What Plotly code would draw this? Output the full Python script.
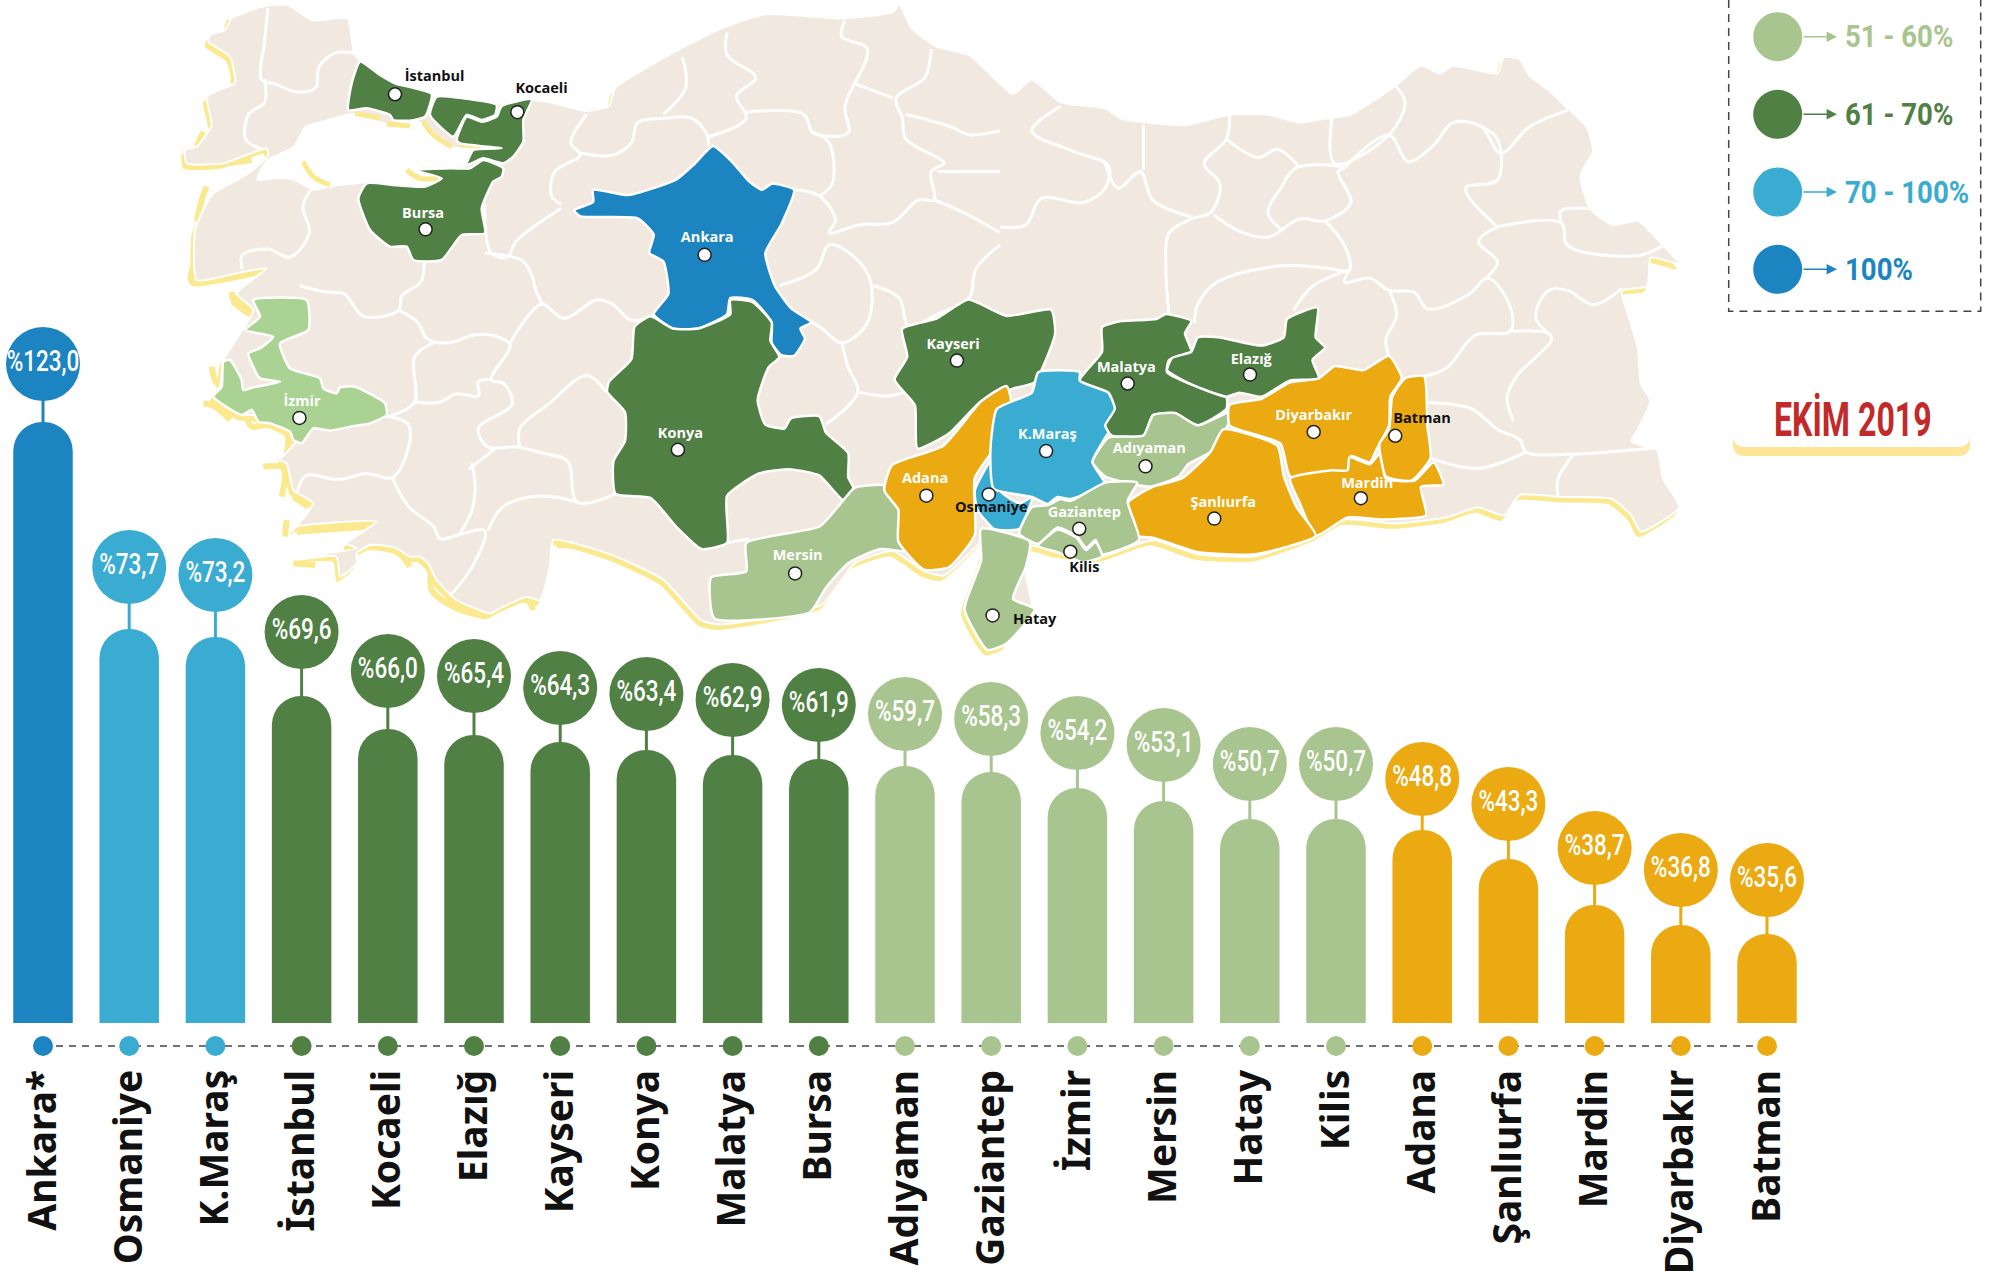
import plotly.graph_objects as go

# ---------- chart data ----------
categories = ["Ankara*", "Osmaniye", "K.Maraş", "İstanbul", "Kocaeli", "Elazığ", "Kayseri", "Konya", "Malatya", "Bursa",
              "Adıyaman", "Gaziantep", "İzmir", "Mersin", "Hatay", "Kilis", "Adana", "Şanlıurfa", "Mardin", "Diyarbakır", "Batman"]
values = ["%123,0", "%73,7", "%73,2", "%69,6", "%66,0", "%65,4", "%64,3", "%63,4", "%62,9", "%61,9",
          "%59,7", "%58,3", "%54,2", "%53,1", "%50,7", "%50,7", "%48,8", "%43,3", "%38,7", "%36,8", "%35,6"]
# the infographic's bars are not proportional to their labels: drawn heights
drawn_heights = [601, 394, 386, 327, 294, 288, 281, 273, 268, 264, 257, 251, 235, 222, 204, 204, 193, 164, 118, 98, 89]
bubble_heights = [659, 456, 448, 391, 352, 347, 335, 329, 323, 318, 309, 304, 290, 278, 259, 259, 244, 219, 175, 153, 143]
bands = ["100", "70", "70", "61", "61", "61", "61", "61", "61", "61",
         "51", "51", "51", "51", "51", "51", "low", "low", "low", "low", "low"]
band_colors = {"100": "#1c85c1", "70": "#3aacd2", "61": "#508044", "51": "#a9c58f", "low": "#eba912"}
legend_labels = ["51 - 60%", "61 - 70%", "70 - 100%", "100%"]
legend_bands = ["51", "61", "70", "100"]

# ---------- map geometry ----------
def z1(p): return [(x / 1.568, y / 2.45) for x, y in p]
def z2(p): return [(1000 + x / 1.568, y / 2.445) for x, y in p]
def sh(p): return [(x * 1.2742, y * 1.2742) for x, y in p]
def c1(p): return [(180 + x / 3, y / 3) for x, y in p]
def c2(p): return [(180 + x / 3, 300 + y / 3) for x, y in p]

north_w = [(415,15),(450,12),(490,50),(545,45),(555,130),(565,150),(600,190),(640,215),(680,235),(740,245),(780,255),(830,245),(860,250),(920,272),(955,260),(965,215),(1060,125),(1130,70),(1200,35),(1320,45),(1400,30),(1410,10),(1430,70),(1470,115),(1520,135)]
east = [(0,205),(20,230),(50,195),(95,250),(165,265),(190,290),(235,300),(295,305),(360,280),(420,280),(470,300),(510,290),(550,280),(620,210),(660,160),(690,180),(710,160),(780,180),(790,140),(815,145),(830,185),(860,220),(890,265),(920,310),(930,370),(910,430),(925,510),(960,550),(1000,540),(1040,600),(1065,645),(1020,630),(1015,700),(975,710),(985,770),(1000,850),(1005,940),(1020,980),(1000,1050),(990,1080),(1030,1100),(1040,1170),(1065,1240),(1005,1300),(990,1260),(960,1220),(880,1215),(815,1210),(790,1260),(750,1240),(700,1265),(620,1280),(540,1270),(495,1310),(400,1360),(310,1355),(240,1320),(160,1360),(90,1350),(50,1335),(40,1400),(50,1490),(0,1520)]
hatay_tip = [(790,505),(775,510),(757,478),(770,440),(775,420)]
south_a = [(1530,1340),(1480,1410),(1450,1400),(1400,1350),(1340,1380),(1290,1480),(1130,1530),(1100,1520),(1040,1420),(960,1360)]
south_b = [(1120,720),(1110,800),(1080,900),(1040,890),(960,925),(930,940),(830,900),(770,840),(745,790),(720,770),(690,770),(650,745),(600,735),(570,735),(530,760),(530,790),(480,830),(470,770),(360,770),(530,745),(500,730),(590,665),(350,680),(340,690),(400,610),(340,570),(320,490),(300,480),(345,430),(340,400),(280,370),(220,345),(185,345),(100,290),(120,260),(130,180)]
west_c = [(220,930),(170,880),(260,805),(170,820),(50,840),(45,690),(70,630),(100,580),(190,530),(230,500),(265,465),(260,445),(130,490),(20,490),(15,450),(50,440),(95,375),(80,290),(130,265),(165,250),(150,170),(85,125),(90,105),(135,90),(155,55)]
outline = z1(north_w) + z2(east) + sh(hatay_tip) + z1(south_a) + c2(south_b) + c1(west_c)
marmara = c1([(375,380),(440,360),(520,340),(620,370),(720,365),(815,440),(965,442),(880,455),(860,495),(790,510),(720,500),(780,535),(740,560),(640,550),(560,548),(470,558),(400,570),(340,540),(300,535),(230,540),(260,480),(340,440)])

yellow_strips = c1([(150,60),(140,90)]), c1([(90,110),(110,140),(155,175),(160,250)]), c1([(90,290),(90,375)]), c1([(70,395),(50,440)]), \
    c1([(20,450),(25,490),(130,490),(215,480)]), c1([(80,560),(65,600),(50,665)]), c1([(50,690),(50,760),(35,845),(120,840),(240,815)]), \
    c1([(155,875),(165,910),(225,950)]), c1([(525,340),(600,355)]), c1([(620,372),(690,378)]), c1([(730,365),(760,405),(815,440)]), \
    c1([(840,435),(960,440)]), c1([(680,510),(720,535),(775,535)]), c1([(370,485),(400,530),(450,555)]), \
    c2([(155,5),(205,25),(230,50)]), c2([(195,85),(230,110),(275,110)]), c2([(95,200),(105,240),(130,270)]), \
    c2([(185,175),(220,235),(240,262),(300,250)]), c2([(70,310),(105,320),(150,360)]), \
    c2([(195,330),(215,380),(260,375),(320,400),(320,460)]), c2([(250,500),(310,505),(305,590)]), c2([(340,590),(385,620)]), \
    c2([(320,660),(315,710)]), c2([(350,695),(560,680)]), c2([(340,790),(405,795)]), c2([(440,770),(530,750)]), \
    c2([(570,740),(640,745),(690,800)]), c2([(720,770),(750,790),(755,870),(830,925),(920,950)]), c2([(960,925),(1040,900),(1060,930)]), \
    c2([(1130,735),(1270,750),(1400,800),(1500,900)])

provinces = {
    "İstanbul": ("#508044", c1([(540,185),(600,225),(645,250),(755,282),(735,350),(690,362),(640,360),(630,345),(560,325),(505,330),(515,250)])),
    "Kocaeli1": ("#508044", c1([(770,290),(850,295),(950,315),(945,345),(905,360),(860,345),(820,410),(750,345)])),
    "Kocaeli2": ("#508044", c1([(830,420),(860,350),(905,365),(950,350),(965,318),(1055,298),(1030,360),(1030,425),(1000,470),(970,490),(910,475),(860,495),(880,450),(965,445),(840,430)])),
    "Bursa": ("#508044", c1([(560,550),(640,555),(735,560),(785,535),(700,510),(815,505),(870,505),(910,480),(970,505),(965,530),(940,545),(905,625),(915,700),(845,705),(785,780),(700,780),(680,740),(630,740),(570,690),(535,595)])),
    "İzmir": ("#aad292", c2([(380,0),(385,90),(300,130),(330,205),(420,235),(430,265),(470,280),(480,262),(525,260),(615,310),(620,345),(570,370),(510,380),(450,392),(400,385),(365,430),(340,420),(330,395),(270,370),(235,365),(215,330),(185,345),(100,290),(125,260),(130,185),(150,180),(185,240),(190,270),(220,262),(300,245),(240,235),(205,160),(240,145),(280,110),(195,90),(240,50),(220,0)])),
    "Ankara": ("#1c85c1", z1([(1118,358),(1150,400),(1175,445),(1195,465),(1210,450),(1245,465),(1225,550),(1200,620),(1215,700),(1240,755),(1272,790),(1255,805),(1262,830),(1245,872),(1225,870),(1210,840),(1210,790),(1180,735),(1145,730),(1140,770),(1095,805),(1055,805),(1025,770),(1048,720),(1040,640),(1018,620),(1025,575),(1000,535),(910,530),(900,515),(930,495),(930,465),(985,478),(1060,440),(1090,400)])),
    "Konya": ("#508044", z1([(1020,775),(1055,805),(1095,805),(1145,770),(1145,735),(1180,740),(1210,790),(1208,835),(1222,875),(1205,900),(1188,980),(1200,1040),(1230,1050),(1240,1025),(1285,1020),(1295,1060),(1330,1110),(1330,1170),(1338,1195),(1322,1225),(1285,1165),(1240,1150),(1190,1160),(1140,1215),(1140,1330),(1100,1345),(1060,1290),(1020,1220),(965,1210),(962,1130),(980,1080),(980,1010),(952,960),(955,935),(990,880),(995,800)])),
    "Mersin": ("#a9c58f", z1([(1115,1415),(1170,1400),(1170,1330),(1285,1290),(1320,1230),(1340,1195),(1390,1190),(1410,1250),(1430,1350),(1380,1345),(1330,1380),(1295,1440),(1270,1500),(1120,1515)])),
    "Kayseri": ("#508044", sh([(708,258),(735,250),(760,235),(790,248),(825,243),(828,262),(812,300),(795,305),(770,315),(745,340),(720,352),(718,318),(702,298),(712,280)])),
    "Adana": ("#eba912", sh([(694,385),(700,365),(740,350),(770,315),(790,303),(795,330),(765,375),(765,420),(745,445),(725,447),(705,425),(705,400)])),
    "Osmaniye": ("#3aacd2", sh([(765,385),(775,365),(785,350),(785,385),(800,395),(810,390),(800,415),(780,415),(767,400)])),
    "K.Maraş": ("#3aacd2", z2([(60,910),(125,910),(125,930),(170,960),(185,1020),(165,1070),(145,1130),(165,1185),(110,1220),(90,1215),(75,1232),(50,1215),(-10,1195),(-15,1100),(-5,1000),(50,960)])),
    "Malatya": ("#508044", z2([(160,800),(190,785),(245,780),(260,768),(300,785),(290,815),(300,860),(265,880),(262,910),(300,940),(330,955),(355,970),(355,1000),(310,1040),(270,1010),(240,1015),(225,1065),(175,1065),(165,1040),(180,1000),(170,960),(125,930),(160,860)])),
    "Elazığ": ("#508044", z2([(310,825),(345,825),(410,845),(445,825),(450,780),(498,752),(495,825),(510,850),(490,880),(500,925),(455,930),(410,970),(375,960),(355,970),(300,940),(262,905),(270,875),(300,860)])),
    "Adıyaman": ("#a9c58f", z2([(240,1015),(275,1010),(310,1040),(355,1010),(372,1000),(355,1045),(330,1105),(295,1135),(280,1165),(235,1190),(165,1165),(145,1130),(170,1070),(225,1065)])),
    "Diyarbakır": ("#eba912", z2([(360,990),(410,975),(455,935),(500,925),(525,895),(570,905),(610,870),(630,925),(612,970),(610,1040),(590,1100),(580,1130),(550,1115),(545,1150),(455,1165),(440,1085),(360,1040)])),
    "Batman": ("#eba912", z2([(635,925),(665,920),(670,1040),(675,1120),(645,1175),(605,1165),(595,1085),(610,1050),(615,970)])),
    "Mardin": ("#eba912", z2([(455,1170),(520,1150),(545,1150),(548,1118),(580,1135),(595,1110),(605,1170),(650,1175),(680,1130),(695,1185),(660,1190),(668,1260),(600,1270),(545,1265),(495,1310),(470,1230)])),
    "Şanlıurfa": ("#eba912", z2([(350,1050),(435,1090),(445,1165),(465,1240),(495,1310),(400,1355),(310,1350),(240,1315),(215,1310),(200,1230),(240,1190),(285,1170),(330,1105)])),
    "Gaziantep": ("#a9c58f", z2([(215,1180),(200,1225),(218,1320),(160,1355),(150,1320),(135,1340),(120,1310),(90,1290),(60,1330),(30,1305),(50,1240),(75,1235),(95,1220),(110,1225),(165,1180)])),
    "Kilis": ("#a9c58f", z2([(60,1335),(90,1295),(120,1315),(135,1345),(150,1325),(160,1360),(130,1375),(90,1350)])),
    "Hatay": ("#a9c58f", sh([(770,415),(808,425),(805,445),(795,470),(812,478),(790,505),(775,510),(757,478),(770,440)])),
}

borders_z1 = [
    [(420,20),(415,100),(410,195),(430,205),(465,225),(495,215),(500,165),(525,130),(555,130)],
    [(415,195),(415,250),(390,280),(385,340),(410,365)],
    [(380,660),(380,625),(420,610),(455,630),(485,570),(475,505),(490,460)],
    [(470,700),(510,715),(540,720),(570,775),(625,760),(630,725),(660,690),(665,645)],
    [(625,760),(655,790),(670,830),(705,840),(745,820),(780,825),(800,845),(770,930),(790,940),(803,990),(750,1050),(765,1095),(810,1095),(850,1110),(890,1130),(905,1230),(965,1210)],
    [(800,840),(830,770),(850,745),(885,780),(935,735),(960,745),(990,785),(1020,775)],
    [(760,500),(770,620),(795,630),(810,590),(880,510)],
    [(760,620),(820,640),(835,680),(840,710),(850,745)],
    [(680,840),(650,875),(650,985),(610,1020)],
    [(650,985),(690,985),(715,965),(750,970),(750,935),(770,930)],
    [(605,1020),(640,1040),(640,1100),(615,1170),(575,1160),(530,1175),(480,1165),(465,1210)],
    [(615,1170),(640,1240),(680,1290),(690,1320),(720,1310),(760,1300),(740,1390),(705,1460)],
    [(740,1135),(745,1190),(740,1250),(720,1310)],
    [(735,1150),(780,1095)],
    [(765,1300),(790,1240),(850,1215),(905,1230)],
    [(815,1095),(815,1050),(860,990),(920,920),(950,960)],
    [(1140,1330),(1175,1320)],
    [(1222,700),(1280,660),(1300,600),(1340,630),(1365,690),(1360,790),(1320,840),(1285,800),(1250,770)],
    [(1320,840),(1330,900),(1345,960),(1295,1040)],
    [(1345,960),(1390,970),(1430,955)],
    [(1245,465),(1285,480),(1310,540),(1300,570),(1350,550),(1400,545),(1440,490),(1465,490),(1460,420),(1480,400),(1420,340),(1415,290),(1405,240),(1450,190),(1460,120)],
    [(880,500),(865,480),(870,420),(910,380),(895,350),(920,280)],
    [(910,375),(960,380),(990,350),(1000,300),(1040,290),(1085,290),(1110,335),(1110,358)],
    [(1040,280),(1075,215),(1070,140)],
    [(1110,335),(1170,290),(1155,235),(1185,190),(1140,135),(1140,80)],
    [(1170,275),(1260,280),(1275,325),(1330,325),(1325,260),(1360,120),(1320,90),(1325,50)],
    [(1275,325),(1300,350),(1305,450),(1285,480)],
    [(1340,205),(1400,240)],
    [(1370,700),(1410,730),(1425,800),(1470,770),(1520,730),(1530,660),(1568,600)],
    [(1465,490),(1510,520),(1568,570)],
    [(1420,280),(1490,310),(1520,330),(1568,320)],
    [(1470,420),(1520,420),(1568,420)],
]
borders_z2 = [
    [(0,555),(40,550),(65,485),(130,495),(165,460),(170,405),(115,370),(50,320),(95,260)],
    [(165,400),(185,460),(220,420),(240,490),(300,530)],
    [(225,305),(225,415)],
    [(360,280),(355,340),(320,400),(345,450),(330,520),(300,535),(265,570),(260,650),(265,770)],
    [(335,525),(375,565),(420,580),(470,535),(510,540),(550,495),(530,420),(540,410),(465,410),(440,460),(420,520),(440,560)],
    [(355,340),(405,385),(435,365),(470,410)],
    [(520,290),(525,400),(610,330),(635,250),(620,210)],
    [(540,410),(610,330),(640,395),(680,355),(710,300),(755,310),(785,375),(830,310),(890,270)],
    [(755,310),(780,340),(780,440),(730,460),(780,555)],
    [(510,540),(540,600),(548,660),(510,655),(440,650),(340,690),(310,745),(305,790)],
    [(548,660),(540,690),(580,680),(610,710),(650,715),(670,755),(735,720),(765,680),(800,750),(800,810),(745,820),(700,900),(665,920)],
    [(548,660),(490,700),(460,760)],
    [(610,710),(622,770),(605,830),(610,870)],
    [(780,555),(750,590),(780,640),(765,675)],
    [(780,555),(880,545),(890,600),(1000,625),(1040,600)],
    [(880,545),(880,515),(925,510)],
    [(800,810),(860,815),(865,830),(810,920),(795,970),(805,1030)],
    [(860,815),(840,775),(860,710),(890,710),(930,745),(975,705)],
    [(670,985),(740,1000),(780,1050),(815,1075),(825,1105),(900,1110),(990,1100),(1030,1095)],
    [(825,1105),(750,1145),(675,1120)],
    [(900,1110),(875,1170),(875,1215)],
]

city_names = ["İstanbul", "Kocaeli", "Bursa", "Ankara", "İzmir", "Konya", "Kayseri", "Malatya", "Elazığ", "K.Maraş", "Adıyaman",
              "Diyarbakır", "Batman", "Mardin", "Şanlıurfa", "Gaziantep", "Kilis", "Hatay", "Adana", "Osmaniye", "Mersin"]
city_dots = sh([(310,74),(406,88),(334,180),(553,200),(235,328),(532,353),(751,283),(885,301),(981,294),(821,354),(899,366),
                (1031,339),(1095,342),(1068,391),(953,407),(847,415),(840,433),(779,483),(727,389),(776,388),(624,450)])
city_labels = sh([(341,61),(425,70),(332,168),(555,187),(237,316),(534,341),(748,271),(884,289),(982,283),(822,342),(902,353),
                  (1031,327),(1116,329),(1073,380),(960,395),(851,403),(851,446),(812,487),(726,376),(778,399),(626,437)])
dark_label = {"İstanbul", "Kocaeli", "Batman", "Kilis", "Hatay", "Osmaniye"}

FONT = "Roboto"
fig = go.Figure()

# ---------- bars on a category axis ----------
fig.add_trace(go.Scatter(x=[categories[0], categories[-1]], y=[-23, -23], mode="lines", cliponaxis=False,
                         line=dict(color="#444444", width=1.5, dash="7px,6px"), hoverinfo="skip"))
for band, col in band_colors.items():
    idx = [i for i, b in enumerate(bands) if b == band]
    cats = [categories[i] for i in idx]
    hs = [drawn_heights[i] for i in idx]
    bs = [bubble_heights[i] for i in idx]
    fig.add_trace(go.Bar(x=cats, y=hs, width=0.69, marker=dict(color=col, cornerradius=30, line_width=0)))
    fig.add_trace(go.Scatter(x=cats, y=bs, mode="markers+text", text=[values[i] for i in idx],
                             textposition="middle center", cliponaxis=False,
                             textfont=dict(family=FONT, size=30, weight=500, color="white"),
                             marker=dict(size=74, color=col, line_width=0),
                             error_y=dict(type="data", symmetric=False, array=[0] * len(hs),
                                          arrayminus=[b - h for b, h in zip(bs, hs)],
                                          color=col, thickness=3, width=0)))
    fig.add_trace(go.Scatter(x=cats, y=[-23] * len(hs), mode="markers", cliponaxis=False,
                             marker=dict(size=20, color=col, line_width=0)))

# ---------- map (overlay axes in picture pixels) ----------
def xy(pts, dx=0, dy=0, close=True):
    p = pts + pts[:1] if close else pts
    return [a + dx for a, _ in p], [b + dy for _, b in p]

def add_poly(pts, col, line="white", w=2.5, dx=0, dy=0):
    x, y = xy(pts, dx, dy)
    fig.add_trace(go.Scatter(x=x, y=y, xaxis="x2", yaxis="y2", mode="lines", fill="toself", fillcolor=col,
                             line=dict(color=line, width=w, shape="spline", smoothing=0.5), hoverinfo="skip"))

add_poly(outline, "#fbe98f", "#fbe98f", 1, dx=-3, dy=5)
yx, yy_ = [], []
for seg in yellow_strips:
    x, y = xy(seg, close=False); yx += x + [None]; yy_ += y + [None]
fig.add_trace(go.Scatter(x=yx, y=yy_, xaxis="x2", yaxis="y2", mode="lines", line=dict(color="#fbe98f", width=6, shape="spline"), hoverinfo="skip"))
add_poly(outline, "#f1e9df", "white", 2)
bx, by = [], []
for seg in borders_z1:
    x, y = xy(z1(seg), close=False); bx += x + [None]; by += y + [None]
for seg in borders_z2:
    x, y = xy(z2(seg), close=False); bx += x + [None]; by += y + [None]
fig.add_trace(go.Scatter(x=bx, y=by, xaxis="x2", yaxis="y2", mode="lines", line=dict(color="white", width=3, shape="spline"),
                         hoverinfo="skip"))
add_poly(marmara, "white", "white", 1)
for seg in yellow_strips[8:14]:
    x, y = xy(seg, close=False)
    fig.add_trace(go.Scatter(x=x, y=y, xaxis="x2", yaxis="y2", mode="lines", line=dict(color="#fbe98f", width=5, shape="spline"), hoverinfo="skip"))
for name, (col, pts) in provinces.items():
    add_poly(pts, col)
fig.add_trace(go.Scatter(x=[p[0] for p in city_dots], y=[p[1] for p in city_dots], xaxis="x2", yaxis="y2", mode="markers",
                         marker=dict(size=13, color="white", line=dict(color="#222222", width=1.5)), hoverinfo="skip"))
fig.add_trace(go.Scatter(x=[p[0] for p in city_labels], y=[p[1] for p in city_labels], xaxis="x2", yaxis="y2", mode="text",
                         text=city_names, textposition="middle center",
                         textfont=dict(family="Open Sans", size=14.5, weight=700,
                                       color=["#111111" if c in dark_label else "white" for c in city_names]), hoverinfo="skip"))

# ---------- legend panel ----------
LY = [36.7, 114.3, 192, 269.3]
annotations = []
for lab, b, yy in zip(legend_labels, legend_bands, LY):
    col = band_colors[b]
    fig.add_trace(go.Scatter(x=[1777.7], y=[yy], xaxis="x2", yaxis="y2", mode="markers",
                             marker=dict(size=49, color=col, line_width=0), hoverinfo="skip"))
    annotations.append(dict(x=1837, y=yy, ax=1802, ay=yy, xref="x2", yref="y2", axref="x2", ayref="y2", text="",
                            showarrow=True, arrowhead=2, arrowsize=1.3, arrowwidth=1.6, arrowcolor=col))
    annotations.append(dict(x=1843, y=yy, xref="x2", yref="y2", text=f"<b>{lab}</b>", showarrow=False, xanchor="left",
                            font=dict(family=FONT, size=31, color=col)))
annotations.append(dict(x=1853, y=419, xref="x2", yref="y2", text="<b>EKİM 2019</b>", showarrow=False,
                        font=dict(family=FONT, size=48, color="#c22a2a")))

def round_box(x0, y0, x1, y1, r):
    return (f"M{x0},{y0} L{x1},{y0} L{x1},{y1 - r} Q{x1},{y1} {x1 - r},{y1} L{x0 + r},{y1} Q{x0},{y1} {x0},{y1 - r} Z")

shapes = [
    dict(type="path", xref="x2", yref="y2", path="M1728.7,0 L1728.7,311.3 L1980.7,311.3 L1980.7,0",
         line=dict(color="#444444", width=1.5, dash="8px,6px"), layer="below"),
    dict(type="path", xref="x2", yref="y2", path=round_box(1733, 387, 1970, 456, 12), fillcolor="#fee597",
         line_width=0, layer="below"),
    dict(type="path", xref="x2", yref="y2", path=round_box(1733, 387, 1970, 447, 12), fillcolor="white",
         line_width=0, layer="below"),
]

# x axis: category i sits at 43 + 86.2*i px; y axis: 1 unit = 1 px, baseline at 1023 px
fig.update_layout(
    width=1998, height=1280, margin=dict(l=0, r=0, t=0, b=0), autosize=False,
    paper_bgcolor="white", plot_bgcolor="rgba(0,0,0,0)", showlegend=False, barmode="overlay",
    shapes=shapes, annotations=annotations,
    xaxis=dict(type="category", categoryorder="array", categoryarray=categories, range=[-43 / 86.2, (1998 - 43) / 86.2],
               tickmode="array", tickvals=categories, ticktext=categories, tickangle=-90, ticks="", ticklabelstandoff=11,
               tickfont=dict(family="Noto Sans", size=39, weight=700, color="#111111"),
               showgrid=False, zeroline=False, showline=False, automargin=False, fixedrange=True),
    yaxis=dict(domain=[1 - 1050 / 1280, 1], range=[-27, 1023], visible=False, showgrid=False, zeroline=False, fixedrange=True),
    xaxis2=dict(domain=[0, 1], anchor="y2", range=[0, 1998], visible=False, fixedrange=True),
    yaxis2=dict(domain=[0, 1], anchor="x2", range=[1280, 0], visible=False, fixedrange=True),
)

# the reference's lettering is condensed and no condensed face is installed: squeeze the real text horizontally
post = """
document.body.style.margin = '0';
function squeeze(el, k, origin) {
  el.style.transformBox = 'fill-box';
  el.style.transformOrigin = origin;
  el.style.transform = 'scaleX(' + k + ')';
}
document.querySelectorAll('.textpoint text').forEach(function (t) {
  if (parseFloat(t.style.fontSize) >= 25) squeeze(t, 0.75, 'center center');
});
document.querySelectorAll('.annotation-text').forEach(function (t) {
  var s = parseFloat(t.style.fontSize);
  if (s >= 40) squeeze(t, 0.67, 'center center');
  else if (s >= 25) squeeze(t, 0.89, 'left center');
});
"""
fig.write_html("out.html", config={"displayModeBar": False}, post_script=post)
